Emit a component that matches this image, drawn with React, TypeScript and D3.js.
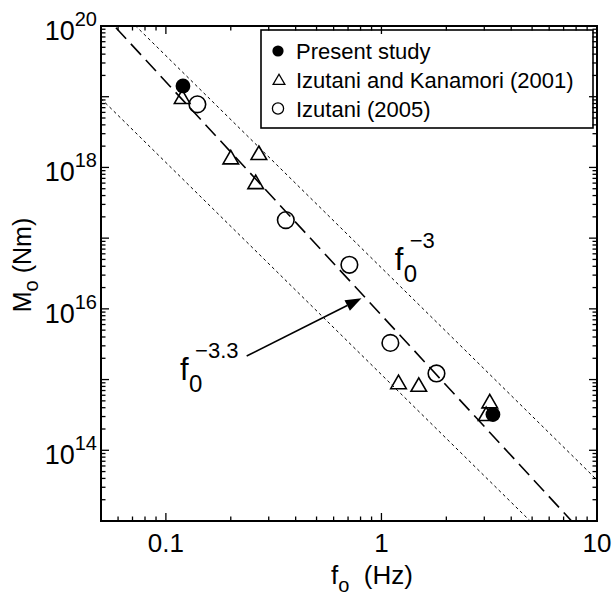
import { useEffect, useRef } from "react";
import * as d3 from "d3";

// Present study
const presentF = [0.12, 3.29];
const presentM = [1.42e19, 3.2e14];

// Izutani and Kanamori (2001)
const ikF = [0.119, 0.2, 0.27, 0.261, 1.2, 1.49, 3.18, 3.06];
const ikM = [9.3e18, 1.3e18, 1.5e18, 5.8e17, 8.6e14, 7.9e14, 4.6e14, 3.05e14];

// Izutani (2005)
const izF = [0.14, 0.36, 0.71, 1.1, 1.8];
const izM = [7.8e18, 1.8e17, 4.2e16, 3.3e15, 1.22e15];

// scaling lines: log10(M) = logC + slope * log10(f)
const lineLogC = [15.911, 16.58, 15.07];
const lineSlope = [-3.3, -3, -3];
const lineKind = ["dashed", "dotted", "dotted"];

const legendLabels = ["Present study", "Izutani and Kanamori (2001)", "Izutani (2005)"];
const xTickLabels = [0.1, 1, 10];
const yLabelExps = [20, 18, 16, 14];

// annotations (data coords)
const arrowFrom = [0.237, 2.15e15];
const arrowTo = [0.808, 1.41e16];
const label33At = [0.1164, 9.84e14];
const label3At = [1.152, 3.54e16];

const FONT = "'Liberation Sans', Arial, Helvetica, sans-serif";

function App() {
	const ref = useRef<SVGSVGElement>(null);

	useEffect(() => {
		const svg = d3.select(ref.current);
		svg.selectAll("*").remove();

		const left = 101, right = 597, top = 26, bottom = 521;
		const x = d3.scaleLog().domain([0.05, 10]).range([left, right]);
		const y = d3.scaleLog().domain([1e13, 1e20]).range([bottom, top]);

		svg.append("rect").attr("width", 614).attr("height", 596).attr("fill", "#fff");

		svg.append("defs").append("clipPath").attr("id", "plotclip")
			.append("rect").attr("x", left).attr("y", top)
			.attr("width", right - left).attr("height", bottom - top);

		// legend box (under the frame ticks)
		const lg = svg.append("g");
		lg.append("rect").attr("x", 261).attr("y", 30).attr("width", 332).attr("height", 98)
			.attr("fill", "#fff").attr("stroke", "#000").attr("stroke-width", 1.6);
		const rowY = [51, 80, 108.5];
		lg.append("circle").attr("cx", 278).attr("cy", rowY[0]).attr("r", 5.6).attr("fill", "#000");
		lg.append("path").attr("d", d3.symbol(d3.symbolTriangle, 60)())
			.attr("transform", `translate(279,${rowY[1] + 1})`)
			.attr("fill", "none").attr("stroke", "#000").attr("stroke-width", 1.3);
		lg.append("circle").attr("cx", 278).attr("cy", rowY[2]).attr("r", 5.6)
			.attr("fill", "none").attr("stroke", "#000").attr("stroke-width", 1.3);
		legendLabels.forEach((t, i) => {
			lg.append("text").attr("x", 296).attr("y", rowY[i] + 8)
				.attr("font-family", FONT).attr("font-size", 22).text(t);
		});

		// lines
		const lines = svg.append("g").attr("clip-path", "url(#plotclip)");
		const fs = [0.05, 10];
		lineLogC.forEach((c, i) => {
			const pts = fs.map((f) => [x(f), y(Math.pow(10, c + lineSlope[i] * Math.log10(f)))]);
			lines.append("path")
				.attr("d", d3.line()(pts as [number, number][]))
				.attr("fill", "none").attr("stroke", "#000")
				.attr("stroke-width", lineKind[i] === "dashed" ? 1.6 : 1)
				.attr("stroke-dasharray", lineKind[i] === "dashed" ? "15,7" : "3,3");
		});

		// markers
		const marks = svg.append("g");
		izF.forEach((f, i) => {
			marks.append("circle").attr("cx", x(f)).attr("cy", y(izM[i])).attr("r", 8.3)
				.attr("fill", "none").attr("stroke", "#000").attr("stroke-width", 1.6);
		});
		ikF.forEach((f, i) => {
			marks.append("path").attr("d", d3.symbol(d3.symbolTriangle, 105)())
				.attr("transform", `translate(${x(f)},${y(ikM[i])})`)
				.attr("fill", "none").attr("stroke", "#000").attr("stroke-width", 1.6);
		});
		presentF.forEach((f, i) => {
			marks.append("circle").attr("cx", x(f)).attr("cy", y(presentM[i])).attr("r", 7.4)
				.attr("fill", "#000");
		});

		// frame and ticks
		const fr = svg.append("g").attr("stroke", "#000");
		fr.append("rect").attr("x", left).attr("y", top).attr("width", right - left)
			.attr("height", bottom - top).attr("fill", "none").attr("stroke-width", 2);
		const isMajor = (v: number) => Math.abs(Math.log10(v) - Math.round(Math.log10(v))) < 1e-6;
		x.ticks().filter((v) => v > 0.05 && v < 10).forEach((v) => {
			const len = isMajor(v) ? 8 : 4.5;
			fr.append("line").attr("x1", x(v)).attr("x2", x(v)).attr("y1", bottom).attr("y2", bottom - len).attr("stroke-width", 1.3);
			fr.append("line").attr("x1", x(v)).attr("x2", x(v)).attr("y1", top).attr("y2", top + len).attr("stroke-width", 1.3);
		});
		y.ticks().filter((v) => v > 1e13 && v < 1e20).forEach((v) => {
			const len = isMajor(v) ? 8 : 4.5;
			fr.append("line").attr("y1", y(v)).attr("y2", y(v)).attr("x1", left).attr("x2", left + len).attr("stroke-width", 1.3);
			fr.append("line").attr("y1", y(v)).attr("y2", y(v)).attr("x1", right).attr("x2", right - len).attr("stroke-width", 1.3);
		});

		// tick labels
		xTickLabels.forEach((v) => {
			svg.append("text").attr("x", x(v)).attr("y", 552).attr("text-anchor", "middle")
				.attr("font-family", FONT).attr("font-size", 26).text(String(v));
		});
		yLabelExps.forEach((e) => {
			const t = svg.append("text").attr("x", 97).attr("y", y(Math.pow(10, e)) + 14)
				.attr("text-anchor", "end").attr("font-family", FONT).attr("font-size", 27);
			t.append("tspan").text("10");
			t.append("tspan").attr("dy", -14).attr("font-size", 20).text(String(e));
		});

		// axis titles
		const xt = svg.append("text").attr("x", 331).attr("y", 584)
			.attr("font-family", FONT).attr("font-size", 26).attr("xml:space", "preserve");
		xt.append("tspan").text("f");
		xt.append("tspan").attr("dy", 8).attr("font-size", 20).text("o");
		xt.append("tspan").attr("dy", -8).text("  (Hz)");

		const yt = svg.append("text").attr("transform", "translate(31,265) rotate(-90)")
			.attr("text-anchor", "middle").attr("font-family", FONT).attr("font-size", 25);
		yt.append("tspan").text("M");
		yt.append("tspan").attr("dy", 7).attr("font-size", 20).text("o");
		yt.append("tspan").attr("dy", -7).text(" (Nm)");

		// annotations
		const exponentLabel = (at: number[], sup: string) => {
			const px = x(at[0]), py = y(at[1]);
			svg.append("text").attr("x", px).attr("y", py).attr("font-family", FONT).attr("font-size", 31).text("f");
			svg.append("text").attr("x", px + 9).attr("y", py + 12).attr("font-family", FONT).attr("font-size", 24).text("0");
			svg.append("text").attr("x", px + 15).attr("y", py - 22).attr("font-family", FONT).attr("font-size", 22).text(sup);
		};
		exponentLabel(label33At, "\u22123.3");
		exponentLabel(label3At, "\u22123");

		const ax0 = x(arrowFrom[0]), ay0 = y(arrowFrom[1]);
		const ax1 = x(arrowTo[0]), ay1 = y(arrowTo[1]);
		const ang = Math.atan2(ay1 - ay0, ax1 - ax0);
		const hl = 16, hw = 6;
		const bx = ax1 - hl * Math.cos(ang), by = ay1 - hl * Math.sin(ang);
		svg.append("line").attr("x1", ax0).attr("y1", ay0).attr("x2", bx).attr("y2", by)
			.attr("stroke", "#000").attr("stroke-width", 1.6);
		svg.append("path")
			.attr("d", `M${ax1},${ay1}L${bx - hw * Math.sin(ang)},${by + hw * Math.cos(ang)}L${bx + hw * Math.sin(ang)},${by - hw * Math.cos(ang)}Z`)
			.attr("fill", "#000");
	}, []);

	return (
		<div style={{ position: "absolute", left: 0, top: 0 }}>
			<svg ref={ref} width={614} height={596} style={{ display: "block" }} />
		</div>
	);
}

export default App;
